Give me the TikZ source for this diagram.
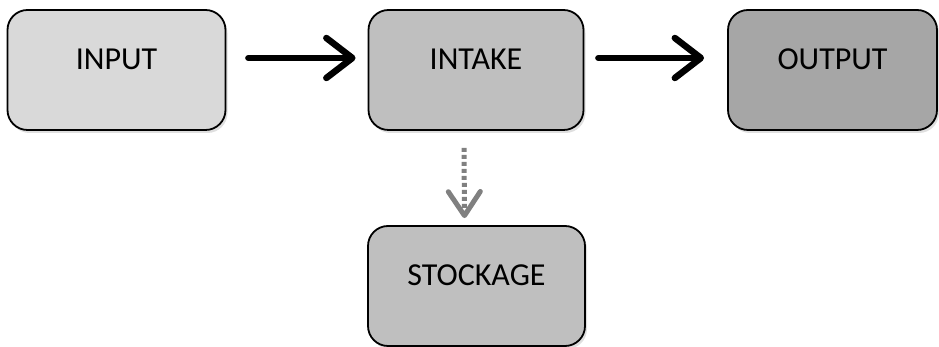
\documentclass[tikz,border=0pt]{standalone}
\usepackage{fontspec}
\setmainfont{Carlito}
\usetikzlibrary{arrows.meta,shadows}
\definecolor{gIn}{HTML}{D9D9D9}
\definecolor{gMid}{HTML}{BFBFBF}
\definecolor{gOut}{HTML}{A6A6A6}
\definecolor{gArr}{HTML}{808080}
\tikzset{
  box/.style={draw=black, line width=1.8pt, rounded corners=20pt, inner sep=0pt,
    font=\fontsize{32}{33}\selectfont, text height=20pt, text depth=20pt,
    drop shadow={shadow xshift=2pt, shadow yshift=-3pt, opacity=0.25}},
  mainarr/.style={line width=6.5pt, line cap=round,
    -{Straight Barb[length=26pt, width=40pt, line width=6.5pt, round]}},
  dotarr/.style={draw=gArr, line width=5pt, dash pattern=on 4pt off 3pt,
    -{Straight Barb[length=24pt, width=32pt, line width=5pt, round, sep=0pt]}}
}
\begin{document}
\begin{tikzpicture}[x=1pt,y=1pt]
\useasboundingbox (0,0) rectangle (939,347);
\node[box, fill=gIn, minimum width=218pt, minimum height=120pt] (input) at (116.5,277) {INPUT};
\node[box, fill=gMid, minimum width=215pt, minimum height=120pt] (intake) at (476,277) {INTAKE};
\node[box, fill=gOut, minimum width=209pt, minimum height=120pt] (output) at (832.5,277) {OUTPUT};
\node[box, fill=gMid, minimum width=217pt, minimum height=120pt] (stockage) at (476.5,61) {STOCKAGE};
\draw[mainarr] ([xshift=22pt,yshift=12pt]input.east) -- ([xshift=-12pt,yshift=12pt]intake.west);
\draw[mainarr] ([xshift=14pt,yshift=12pt]intake.east) -- ([xshift=-23pt,yshift=12pt]output.west);
\draw[dotarr] ([xshift=-12pt,yshift=-17pt]intake.south) -- ([xshift=-12pt,yshift=7pt]stockage.north);
\end{tikzpicture}
\end{document}
